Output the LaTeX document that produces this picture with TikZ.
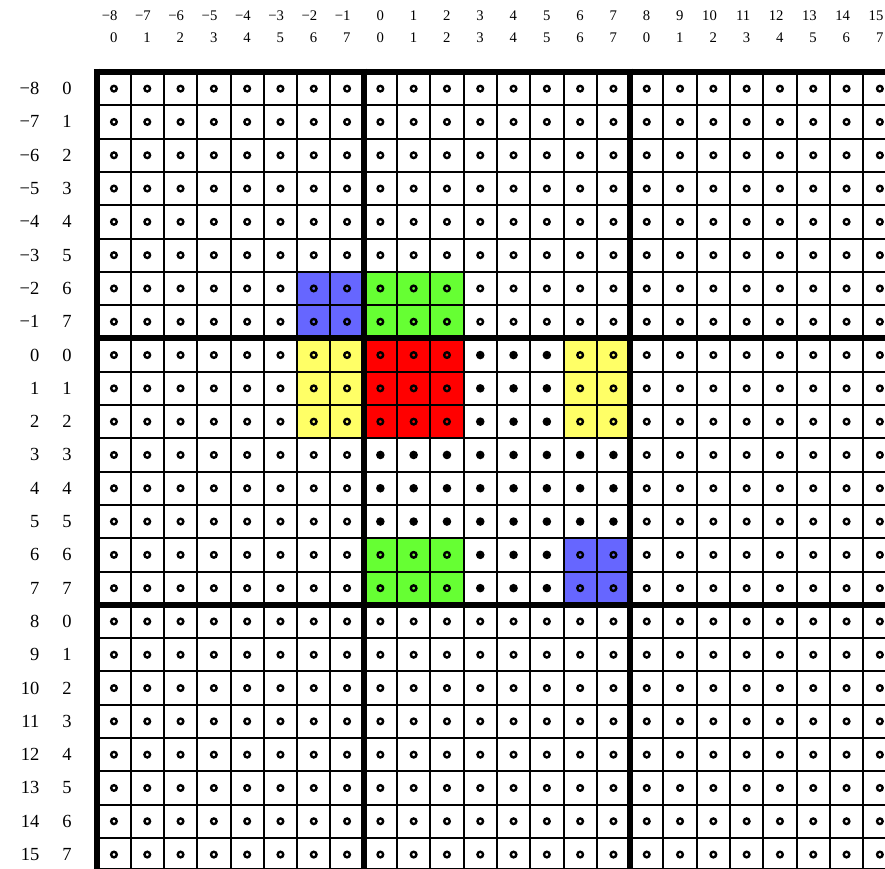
\documentclass[tikz,border=0pt]{standalone}
\usepackage{fontspec}
\setmainfont{Liberation Serif}
\definecolor{cred}{RGB}{255,0,0}
\definecolor{cgreen}{RGB}{102,255,51}
\definecolor{cblue}{RGB}{102,102,255}
\definecolor{cyellow}{RGB}{255,255,102}
\tikzset{
  thingrid/.style={line width=2pt, black},
  thickline/.style={line width=6pt, black},
  opendot/.style={line width=2.4pt, black},
  fulldot/.style={fill=black},
  collabel/.style={inner sep=0pt, anchor=base east, font=\fontsize{14.7}{16}\selectfont},
  rowlabelA/.style={inner sep=0pt, anchor=base east, font=\fontsize{18.5}{20}\selectfont},
  rowlabelB/.style={inner sep=0pt, anchor=base, font=\fontsize{18.5}{20}\selectfont},
}
\begin{document}
\begin{tikzpicture}[x=1pt,y=1pt]
\useasboundingbox (0,0) rectangle (885,-868);
\clip (0,0) rectangle (885,-868);
% labels
\foreach \c in {0,...,23}{
  \pgfmathtruncatemacro{\g}{\c-8}
  \pgfmathtruncatemacro{\m}{mod(\c,8)}
  \pgfmathsetmacro{\xx}{97.3+(\c+0.5)*33.3+3.7}
  \pgfmathsetmacro{\yy}{-72-(\c+0.5)*33.3-6}
  \ifnum\g<0
    \pgfmathtruncatemacro{\a}{-\g}
    \node[collabel] (ct\c) at (\xx,-20.7) {−\a};
    \node[rowlabelA] (rl\c) at (39.5,\yy) {−\a};
  \else
    \node[collabel] (ct\c) at (\xx,-20.7) {\g};
    \node[rowlabelA] (rl\c) at (39.5,\yy) {\g};
  \fi
  \node[collabel] (cb\c) at (\xx,-42.3) {\m};
  \node[rowlabelB] (rr\c) at (67,\yy) {\m};
}
\begin{scope}[shift={(97.3,-72)}, x=33.3pt, y=-33.3pt]
  \fill[white] (0,0) rectangle (24,24);
  \fill[cred] (8,8) rectangle (11,11);
  \fill[cgreen] (8,6) rectangle (11,8);
  \fill[cgreen] (8,14) rectangle (11,16);
  \fill[cblue] (6,6) rectangle (8,8);
  \fill[cblue] (14,14) rectangle (16,16);
  \fill[cyellow] (6,8) rectangle (8,11);
  \fill[cyellow] (14,8) rectangle (16,11);
  \foreach \k in {1,...,23}{
    \draw[thingrid] (\k,0) -- (\k,24);
    \draw[thingrid] (0,\k) -- (24,\k);
  }
  \foreach \k in {0,8,16,24}{
    \draw[thickline] (\k,-0.1) -- (\k,24.1);
    \draw[thickline] (-0.1,\k) -- (24.1,\k);
  }
  \foreach \c in {0,...,23}{
    \foreach \r in {0,...,23}{
      \pgfmathtruncatemacro{\inb}{(\c>7)*(\c<16)*(\r>7)*(\r<16)}
      \pgfmathtruncatemacro{\ce}{(\c<11)+(\c>13)}
      \pgfmathtruncatemacro{\re}{(\r<11)+(\r>13)}
      \pgfmathtruncatemacro{\isfull}{\inb*(1-\ce*\re)}
      \ifnum\isfull=1
        \fill[fulldot] (\c+0.5,\r+0.5) circle[radius=4.3pt];
      \else
        \draw[opendot] (\c+0.5,\r+0.5) circle[radius=2.8pt];
      \fi
    }
  }
\end{scope}
\end{tikzpicture}
\end{document}
